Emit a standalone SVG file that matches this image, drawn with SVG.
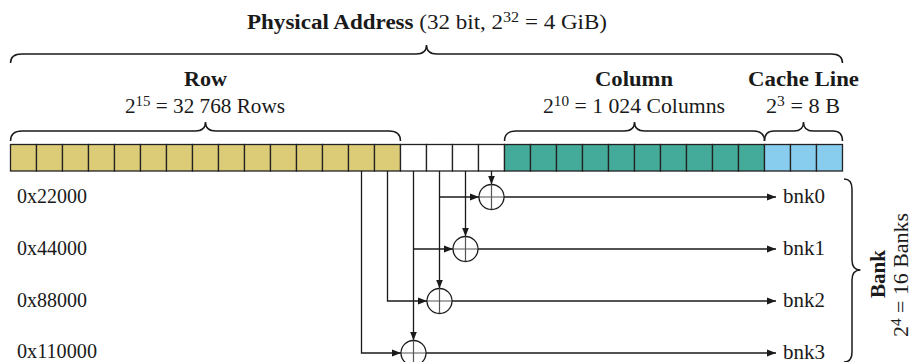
<svg xmlns="http://www.w3.org/2000/svg" width="921" height="362" viewBox="0 0 921 362">
  <style>
    text { font-family: "Liberation Serif", "Times New Roman", serif; font-size: 20px; fill: #1a1a1a; }
    .b { font-weight: bold; }
    .sup { font-size: 14px; }
    .cell { stroke: #222; stroke-width: 1.3; }
    .row { fill: #DDCC77; }
    .free { fill: #ffffff; }
    .col { fill: #44AA99; }
    .cl { fill: #88CCEE; }
    .brace { fill: none; stroke: #1a1a1a; stroke-width: 1.5; }
    .wire { fill: none; stroke: #1a1a1a; stroke-width: 1.3; }
    .arr { marker-end: url(#ah); }
    .xor circle { fill: #fff; stroke: #1a1a1a; stroke-width: 1.3; }
    .xor path { stroke: #555; stroke-width: 1.2; fill: none; }
  </style>
  <defs>
    <marker id="ah" markerUnits="userSpaceOnUse" markerWidth="10" markerHeight="8" refX="9" refY="4" orient="auto">
      <path d="M0,0.5 L9,4 L0,7.5 z" fill="#1a1a1a"/>
    </marker>
  </defs>

  <rect width="921" height="362" fill="#ffffff"/>

  <!-- Title and braces -->
  <g id="physical-address">
    <text x="427" y="29" text-anchor="middle" textLength="360" lengthAdjust="spacingAndGlyphs"><tspan class="b">Physical Address</tspan> (32 bit, 2<tspan class="sup" dy="-7">32</tspan><tspan dy="7"> = 4 GiB)</tspan></text>
    <path class="brace" d="M10.5,63 Q10.5,54 22,54 L416,54 Q426.5,54 426.5,45 Q426.5,54 437,54 L831,54 Q842.5,54 842.5,63"/>
  </g>

  <g id="row-field">
    <text class="b" x="205.5" y="86" text-anchor="middle" textLength="43" lengthAdjust="spacingAndGlyphs">Row</text>
    <text x="205" y="112.5" text-anchor="middle" textLength="160" lengthAdjust="spacingAndGlyphs">2<tspan class="sup" dy="-7">15</tspan><tspan dy="7"> = 32 768 Rows</tspan></text>
    <path class="brace" d="M10.5,141 Q10.5,131 22,131 L195,131 Q205.5,131 205.5,122 Q205.5,131 216,131 L389,131 Q400.5,131 400.5,141"/>
  </g>

  <g id="column-field">
    <text class="b" x="634" y="86" text-anchor="middle" textLength="78" lengthAdjust="spacingAndGlyphs">Column</text>
    <text x="634" y="112.5" text-anchor="middle" textLength="182" lengthAdjust="spacingAndGlyphs">2<tspan class="sup" dy="-7">10</tspan><tspan dy="7"> = 1 024 Columns</tspan></text>
    <path class="brace" d="M504.5,141 Q504.5,131 516,131 L624,131 Q634.5,131 634.5,122 Q634.5,131 645,131 L753,131 Q764.5,131 764.5,141"/>
  </g>

  <g id="cacheline-field">
    <text class="b" x="803.5" y="86" text-anchor="middle" textLength="111" lengthAdjust="spacingAndGlyphs">Cache Line</text>
    <text x="803" y="112.5" text-anchor="middle" textLength="74" lengthAdjust="spacingAndGlyphs">2<tspan class="sup" dy="-7">3</tspan><tspan dy="7"> = 8 B</tspan></text>
    <path class="brace" d="M764.5,141 Q764.5,131 774,131 L794,131 Q803.5,131 803.5,122 Q803.5,131 813,131 L833,131 Q842.5,131 842.5,141"/>
  </g>

  <!-- Address bits -->
  <g id="bits">
    <rect class="cell row" x="10.5" y="144.5" width="26" height="26.5"/>
    <rect class="cell row" x="36.5" y="144.5" width="26" height="26.5"/>
    <rect class="cell row" x="62.5" y="144.5" width="26" height="26.5"/>
    <rect class="cell row" x="88.5" y="144.5" width="26" height="26.5"/>
    <rect class="cell row" x="114.5" y="144.5" width="26" height="26.5"/>
    <rect class="cell row" x="140.5" y="144.5" width="26" height="26.5"/>
    <rect class="cell row" x="166.5" y="144.5" width="26" height="26.5"/>
    <rect class="cell row" x="192.5" y="144.5" width="26" height="26.5"/>
    <rect class="cell row" x="218.5" y="144.5" width="26" height="26.5"/>
    <rect class="cell row" x="244.5" y="144.5" width="26" height="26.5"/>
    <rect class="cell row" x="270.5" y="144.5" width="26" height="26.5"/>
    <rect class="cell row" x="296.5" y="144.5" width="26" height="26.5"/>
    <rect class="cell row" x="322.5" y="144.5" width="26" height="26.5"/>
    <rect class="cell row" x="348.5" y="144.5" width="26" height="26.5"/>
    <rect class="cell row" x="374.5" y="144.5" width="26" height="26.5"/>
    <rect class="cell free" x="400.5" y="144.5" width="26" height="26.5"/>
    <rect class="cell free" x="426.5" y="144.5" width="26" height="26.5"/>
    <rect class="cell free" x="452.5" y="144.5" width="26" height="26.5"/>
    <rect class="cell free" x="478.5" y="144.5" width="26" height="26.5"/>
    <rect class="cell col" x="504.5" y="144.5" width="26" height="26.5"/>
    <rect class="cell col" x="530.5" y="144.5" width="26" height="26.5"/>
    <rect class="cell col" x="556.5" y="144.5" width="26" height="26.5"/>
    <rect class="cell col" x="582.5" y="144.5" width="26" height="26.5"/>
    <rect class="cell col" x="608.5" y="144.5" width="26" height="26.5"/>
    <rect class="cell col" x="634.5" y="144.5" width="26" height="26.5"/>
    <rect class="cell col" x="660.5" y="144.5" width="26" height="26.5"/>
    <rect class="cell col" x="686.5" y="144.5" width="26" height="26.5"/>
    <rect class="cell col" x="712.5" y="144.5" width="26" height="26.5"/>
    <rect class="cell col" x="738.5" y="144.5" width="26" height="26.5"/>
    <rect class="cell cl" x="764.5" y="144.5" width="26" height="26.5"/>
    <rect class="cell cl" x="790.5" y="144.5" width="26" height="26.5"/>
    <rect class="cell cl" x="816.5" y="144.5" width="26" height="26.5"/>
  </g>

  <!-- Connectors -->
  <g id="connectors">
    <path class="wire arr" d="M491.5,171 V184.5"/>
    <path class="wire arr" d="M465.5,171 V236.5"/>
    <path class="wire arr" d="M439.5,171 V288.5"/>
    <path class="wire arr" d="M439.5,197 H479"/>
    <path class="wire arr" d="M413.5,171 V340.5"/>
    <path class="wire arr" d="M413.5,249 H453"/>
    <path class="wire arr" d="M387.5,171 V301 H427"/>
    <path class="wire arr" d="M361.5,171 V353 H401"/>
    <path class="wire arr" d="M504,197 H776"/>
    <path class="wire arr" d="M478,249 H776"/>
    <path class="wire arr" d="M452,301 H776"/>
    <path class="wire arr" d="M426,353 H776"/>
  </g>

  <!-- XOR nodes -->
  <g id="xor0" class="xor"><circle cx="491.5" cy="197" r="12.5"/><path d="M479,197 H504 M491.5,184.5 V209.5"/></g>
  <g id="xor1" class="xor"><circle cx="465.5" cy="249" r="12.5"/><path d="M453,249 H478 M465.5,236.5 V261.5"/></g>
  <g id="xor2" class="xor"><circle cx="439.5" cy="301" r="12.5"/><path d="M427,301 H452 M439.5,288.5 V313.5"/></g>
  <g id="xor3" class="xor"><circle cx="413.5" cy="353" r="12.5"/><path d="M401,353 H426 M413.5,340.5 V365.5"/></g>

  <!-- Masks -->
  <g id="mask0"><text x="17" y="203" textLength="70" lengthAdjust="spacingAndGlyphs">0x22000</text></g>
  <g id="mask1"><text x="17" y="254.5" textLength="70" lengthAdjust="spacingAndGlyphs">0x44000</text></g>
  <g id="mask2"><text x="17" y="306.5" textLength="70" lengthAdjust="spacingAndGlyphs">0x88000</text></g>
  <g id="mask3"><text x="17" y="358" textLength="80" lengthAdjust="spacingAndGlyphs">0x110000</text></g>

  <!-- Banks -->
  <g id="bnk0"><text x="783" y="203" textLength="42" lengthAdjust="spacingAndGlyphs">bnk0</text></g>
  <g id="bnk1"><text x="783" y="255" textLength="42" lengthAdjust="spacingAndGlyphs">bnk1</text></g>
  <g id="bnk2"><text x="783" y="307" textLength="42" lengthAdjust="spacingAndGlyphs">bnk2</text></g>
  <g id="bnk3"><text x="783" y="359" textLength="42" lengthAdjust="spacingAndGlyphs">bnk3</text></g>

  <g id="bank-brace">
    <path class="brace" d="M844,179 Q852,179 852,189 L852,260 Q852,270 860.5,270 Q852,270 852,280 L852,352 Q852,362 844,362"/>
    <text class="b" transform="translate(885,274) rotate(-90)" text-anchor="middle" textLength="48" lengthAdjust="spacingAndGlyphs">Bank</text>
    <text transform="translate(908,275) rotate(-90)" text-anchor="middle" textLength="124" lengthAdjust="spacingAndGlyphs">2<tspan class="sup" dy="-7">4</tspan><tspan dy="7"> = 16 Banks</tspan></text>
  </g>
</svg>
